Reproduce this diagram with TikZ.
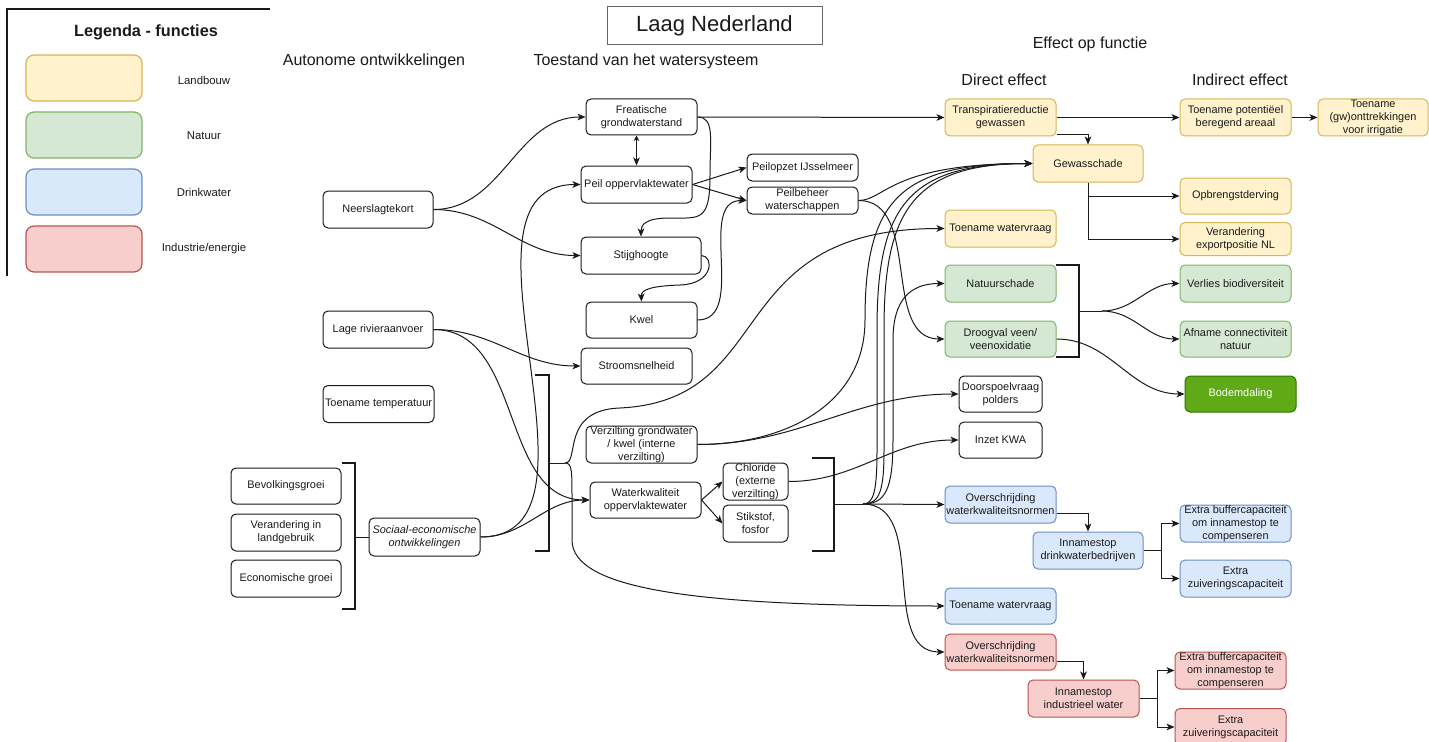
\documentclass[tikz,border=0pt]{standalone}
\usepackage{fontspec}
\setmainfont{Liberation Sans}
\usetikzlibrary{arrows.meta,calc}
\definecolor{yfill}{HTML}{FFF2CC}
\definecolor{ydraw}{HTML}{D6B656}
\definecolor{gfill}{HTML}{D5E8D4}
\definecolor{gdraw}{HTML}{82B366}
\definecolor{bfill}{HTML}{DAE8FC}
\definecolor{bdraw}{HTML}{6C8EBF}
\definecolor{rfill}{HTML}{F8CECC}
\definecolor{rdraw}{HTML}{B85450}
\definecolor{dgfill}{HTML}{60A917}
\definecolor{dgdraw}{HTML}{2D7600}
\definecolor{ink}{HTML}{1A1A1A}
\newcommand{\nodefnt}{\fontsize{8.2pt}{9.75pt}\selectfont}
\newcommand{\legfnt}{\fontsize{8.5pt}{10pt}\selectfont}
\newcommand{\headfnt}{\fontsize{12pt}{14pt}\selectfont}
\begin{document}
\begin{tikzpicture}[x=0.75pt,y=-0.75pt,
  sz/.style 2 args={minimum width=#1*0.75pt, minimum height=#2*0.75pt},
  bx/.style={rectangle, rounded corners=3.75pt, line width=0.75pt, align=center, inner sep=0pt, font=\nodefnt, text=ink},
  pl/.style={bx, draw=ink, fill=white},
  yl/.style={bx, draw=ydraw, fill=yfill},
  gr/.style={bx, draw=gdraw, fill=gfill},
  bl/.style={bx, draw=bdraw, fill=bfill},
  rd/.style={bx, draw=rdraw, fill=rfill},
  dg/.style={bx, draw=dgdraw, fill=dgfill, text=white},
  lg/.style={rectangle, rounded corners=6pt, line width=0.9pt, minimum width=87pt, minimum height=34.5pt},
  lgtext/.style={font=\legfnt, text=ink},
  head/.style={font=\headfnt, text=ink},
  arr/.style={draw=ink, line width=0.75pt, -{Stealth[length=6pt,width=5pt,inset=1.6pt]}},
  dbl/.style={draw=ink, line width=0.75pt, {Stealth[length=4pt,width=4pt,inset=1pt]}-{Stealth[length=6pt,width=5pt,inset=1.6pt]}},
  ln/.style={draw=ink, line width=0.75pt},
  brk/.style={draw=ink, line width=1.6pt},
]
\fill[white] (0,0) rectangle (1429,742);
\useasboundingbox (0,0) rectangle (1429,742);

% ---------- legend ----------
\draw[draw=ink, line width=1.1pt] (7,276) -- (7,9) -- (270,9);
\node[font=\bfseries\fontsize{12.2pt}{14pt}\selectfont, text=ink] (legt) at (146,32) {Legenda - functies};
\node[lg, draw=ydraw, fill=yfill] (lg1) at (84,78) {};
\node[lg, draw=gdraw, fill=gfill] (lg2) at (84,135) {};
\node[lg, draw=bdraw, fill=bfill] (lg3) at (84,192) {};
\node[lg, draw=rdraw, fill=rfill] (lg4) at (84,249) {};
\node[lgtext] (lt1) at (204,80) {Landbouw};
\node[lgtext] (lt2) at (204,136) {Natuur};
\node[lgtext] (lt3) at (204,192) {Drinkwater};
\node[lgtext] (lt4) at (204,249) {Industrie/energie};

% ---------- headers ----------
\node[draw=gray!80!black, line width=0.75pt, sz={215}{38}, inner sep=0pt, font=\fontsize{16.5pt}{18pt}\selectfont, text=ink] (title) at (714.5,25.5) {Laag Nederland};
\node[head] (h1) at (374,61) {Autonome ontwikkelingen};
\node[head] (h2) at (646,61) {Toestand van het watersysteem};
\node[head] (h3) at (1090,44) {Effect op functie};
\node[head] (h4) at (1004,80) {Direct effect};
\node[head] (h5) at (1240,80) {Indirect effect};

% ---------- left column ----------
\node[pl, sz={110}{37}] (neer) at (378,209.5) {Neerslagtekort};
\node[pl, sz={110}{37}] (lage) at (378,329.5) {Lage rivieraanvoer};
\node[pl, sz={111}{37}] (temp) at (378.5,404) {Toename temperatuur};
\node[pl, sz={110}{36}] (bev) at (286,486) {Bevolkingsgroei};
\node[pl, sz={110}{37}] (lgb) at (286,532.5) {Verandering in\\landgebruik};
\node[pl, sz={110}{37}] (eco) at (286,578.5) {Economische groei};
\node[pl, sz={111}{38}, font=\nodefnt\itshape] (soc) at (424.5,537) {Sociaal-economische\\ontwikkelingen};

% ---------- water system ----------
\node[pl, sz={111}{36}] (fre) at (641.5,117) {Freatische\\grondwaterstand};
\node[pl, sz={111}{37}] (peil) at (636.5,184.5) {Peil oppervlaktewater};
\node[pl, sz={120}{37}] (stij) at (641,255.5) {Stijghoogte};
\node[pl, sz={111}{36}] (kwel) at (641.5,320) {Kwel};
\node[pl, sz={111}{36}] (stroom) at (636.5,366) {Stroomsnelheid};
\node[pl, sz={111}{37}] (verz) at (641.5,444.5) {Verzilting grondwater\\/ kwel (interne\\verzilting)};
\node[pl, sz={111}{36}] (wk) at (645.5,500) {Waterkwaliteit\\oppervlaktewater};
\node[pl, sz={65}{37}] (chl) at (755.5,481.5) {Chloride\\(externe\\verzilting)};
\node[pl, sz={65}{37}] (stik) at (755.5,523.5) {Stikstof,\\fosfor};
\node[pl, sz={111}{27}] (pij) at (802.5,167.5) {Peilopzet IJsselmeer};
\node[pl, sz={111}{27}] (pbw) at (802.5,200.5) {Peilbeheer\\waterschappen};

% ---------- direct effects ----------
\node[yl, sz={111}{37}] (tra) at (1000.5,117.5) {Transpiratiereductie\\gewassen};
\node[yl, sz={110}{37}] (gew) at (1088,163.5) {Gewasschade};
\node[yl, sz={111}{37}] (twy) at (1000.5,228.5) {Toename watervraag};
\node[gr, sz={111}{37}] (nat) at (1000.5,283.5) {Natuurschade};
\node[gr, sz={111}{36}] (droog) at (1000.5,339) {Droogval veen/\\veenoxidatie};
\node[pl, sz={83}{36}] (door) at (1000.5,394) {Doorspoelvraag\\polders};
\node[pl, sz={83}{36}] (kwa) at (1000.5,440) {Inzet KWA};
\node[bl, sz={111}{37}] (ovb) at (1000.5,504.5) {Overschrijding\\waterkwaliteitsnormen};
\node[bl, sz={110}{37}] (inb) at (1088,550.5) {Innamestop\\drinkwaterbedrijven};
\node[bl, sz={111}{36}] (twb) at (1000.5,606) {Toename watervraag};
\node[rd, sz={111}{36}] (ovr) at (1000.5,652) {Overschrijding\\waterkwaliteitsnormen};
\node[rd, sz={111}{37}] (inr) at (1083.5,698.5) {Innamestop\\industrieel water};

% ---------- indirect effects ----------
\node[yl, sz={111}{37}] (tpa) at (1235.5,117.5) {Toename potentiëel\\beregend areaal};
\node[yl, sz={110}{37}] (tgw) at (1373,117.5) {Toename\\(gw)onttrekkingen\\voor irrigatie};
\node[yl, sz={111}{36}] (opb) at (1235.5,196) {Opbrengstderving};
\node[yl, sz={111}{33}] (vex) at (1235.5,239) {Verandering\\exportpositie NL};
\node[gr, sz={111}{37}] (vbd) at (1235.5,283.5) {Verlies biodiversiteit};
\node[gr, sz={111}{36}] (acn) at (1235.5,339) {Afname connectiviteit\\natuur};
\node[dg, sz={111}{36}] (bod) at (1240.5,394) {Bodemdaling};
\node[bl, sz={111}{37}] (ebb) at (1235.5,523.5) {Extra buffercapaciteit\\om innamestop te\\compenseren};
\node[bl, sz={111}{37}] (ezb) at (1235.5,578.5) {Extra\\zuiveringscapaciteit};
\node[rd, sz={111}{37}] (ebr) at (1230.5,670.5) {Extra buffercapaciteit\\om innamestop te\\compenseren};
\node[rd, sz={111}{37}] (ezr) at (1230.5,727) {Extra\\zuiveringscapaciteit};

% ---------- brackets ----------
\coordinate (bl1) at (355,537);
\coordinate (jm0) at (549,463);
\coordinate (jm) at (565,463);
\coordinate (jr0) at (834,504);
\coordinate (jr) at (863,504);
\coordinate (jn0) at (1079,311);
\coordinate (jn) at (1102,311);
\draw[brk] (342,463) -- (355,463) -- (355,609) -- (342,609);
\draw[brk] (535,375) -- (549,375) -- (549,551) -- (535,551);
\draw[brk] (812,458) -- (834,458) -- (834,551) -- (812,551);
\draw[brk] (1056,265) -- (1079,265) -- (1079,357) -- (1056,357);
\draw[ln] (bl1) -- (soc.west);
\draw[ln] (jm0) -- (jm);
\draw[ln] (jr0) -- (jr);
\draw[ln] (jn0) -- (jn);

% ---------- connectors ----------
\draw[arr] (neer.east) to[out=0,in=180] (fre.west);
\draw[arr] (neer.east) to[out=0,in=180] (stij.west);
\draw[arr] (lage.east) to[out=0,in=180] (stroom.west);
\draw[arr] (lage.east) to[out=0,in=180] (wk.west);
\draw[arr] (soc.east) to[out=0,in=180] (peil.west);
\draw[arr] (soc.east) to[out=0,in=180] (wk.west);
\draw[dbl] (peil.north |- fre.south) -- (peil.north);
\draw[arr] (fre.east) -- (tra.west);
\draw[arr] (fre.east) .. controls (715,117) and (710,140) .. (710,175)
  .. controls (710,222) and (700,218) .. (670,218)
  .. controls (645,218) and (641,225) .. (stij.north);
\draw[arr] (stij.east) .. controls (714,256) and (714,284) .. (680,285)
  .. controls (650,286) and (641,290) .. (kwel.north);
\draw[arr] (kwel.east) to[out=0,in=180] (pbw.west);
\draw[arr] (peil.east) -- (pij.west);
\draw[arr] (peil.east) -- (pbw.west);
\draw[arr] (pbw.east) .. controls (885,200.5) and (890,163.5) .. (gew.west);
\draw[arr] (pbw.east) to[out=0,in=180] (droog.west);
\draw[arr] (verz.east) to[out=0,in=180] (door.west);
\draw[arr] (verz.east) .. controls (785,444.5) and (865,405) .. (865,320)
  .. controls (865,200) and (900,163.5) .. (gew.west);
\draw[arr] (chl.east) to[out=0,in=180] (kwa.west);
\draw[arr] (wk.east) -- (chl.west);
\draw[arr] (wk.east) -- (stik.west);
\draw[arr] (jm) .. controls (580,463) and (560,410) .. (620,408)
  .. controls (780,400) and (720,228.5) .. (twy.west);
\draw[arr] (jm) .. controls (572,463) and (572,470) .. (572,500) -- (572,540)
  .. controls (572,590) and (700,606) .. (twb.west);
\draw[arr] (jr) -- (ovb.west);
\draw[arr] (jr) to[out=0,in=180] (ovr.west);
\draw[arr] (jr) .. controls (874,504) and (877,490) .. (877,450) -- (877,330)
  .. controls (877,210) and (905,163.5) .. (gew.west);
\draw[arr] (jr) .. controls (880,504) and (884,490) .. (884,450) -- (884,330)
  .. controls (884,215) and (910,163.5) .. (gew.west);
\draw[arr] (jr) .. controls (885,504) and (893,490) .. (893,440) -- (893,340)
  .. controls (893,300) and (910,283.5) .. (nat.west);
\draw[arr] (jn) to[out=0,in=180] (vbd.west);
\draw[arr] (jn) to[out=0,in=180] (acn.west);
\draw[arr] (droog.east) to[out=0,in=180] (bod.west);
\draw[arr] (tra.east) -- (tpa.west);
\draw[arr] (tpa.east) -- (tgw.west);
\draw[arr] ($(tra.east)+(0,17)$) -| (gew.north);
\draw[arr] (gew.south) |- (opb.west);
\draw[arr] (gew.south) |- (vex.west);
\draw[arr] ($(ovb.east)+(0,8.5)$) -| (inb.north);
\coordinate (cb) at (1161,550.5);
\draw[ln] (inb.east) -- (cb);
\draw[arr] (cb) |- (ebb.west);
\draw[arr] (cb) |- (ezb.west);
\draw[arr] ($(ovr.east)+(0,9)$) -| (inr.north);
\coordinate (cr) at (1157,698.5);
\draw[ln] (inr.east) -- (cr);
\draw[arr] (cr) |- (ebr.west);
\draw[arr] (cr) |- (ezr.west);
\end{tikzpicture}
\end{document}
